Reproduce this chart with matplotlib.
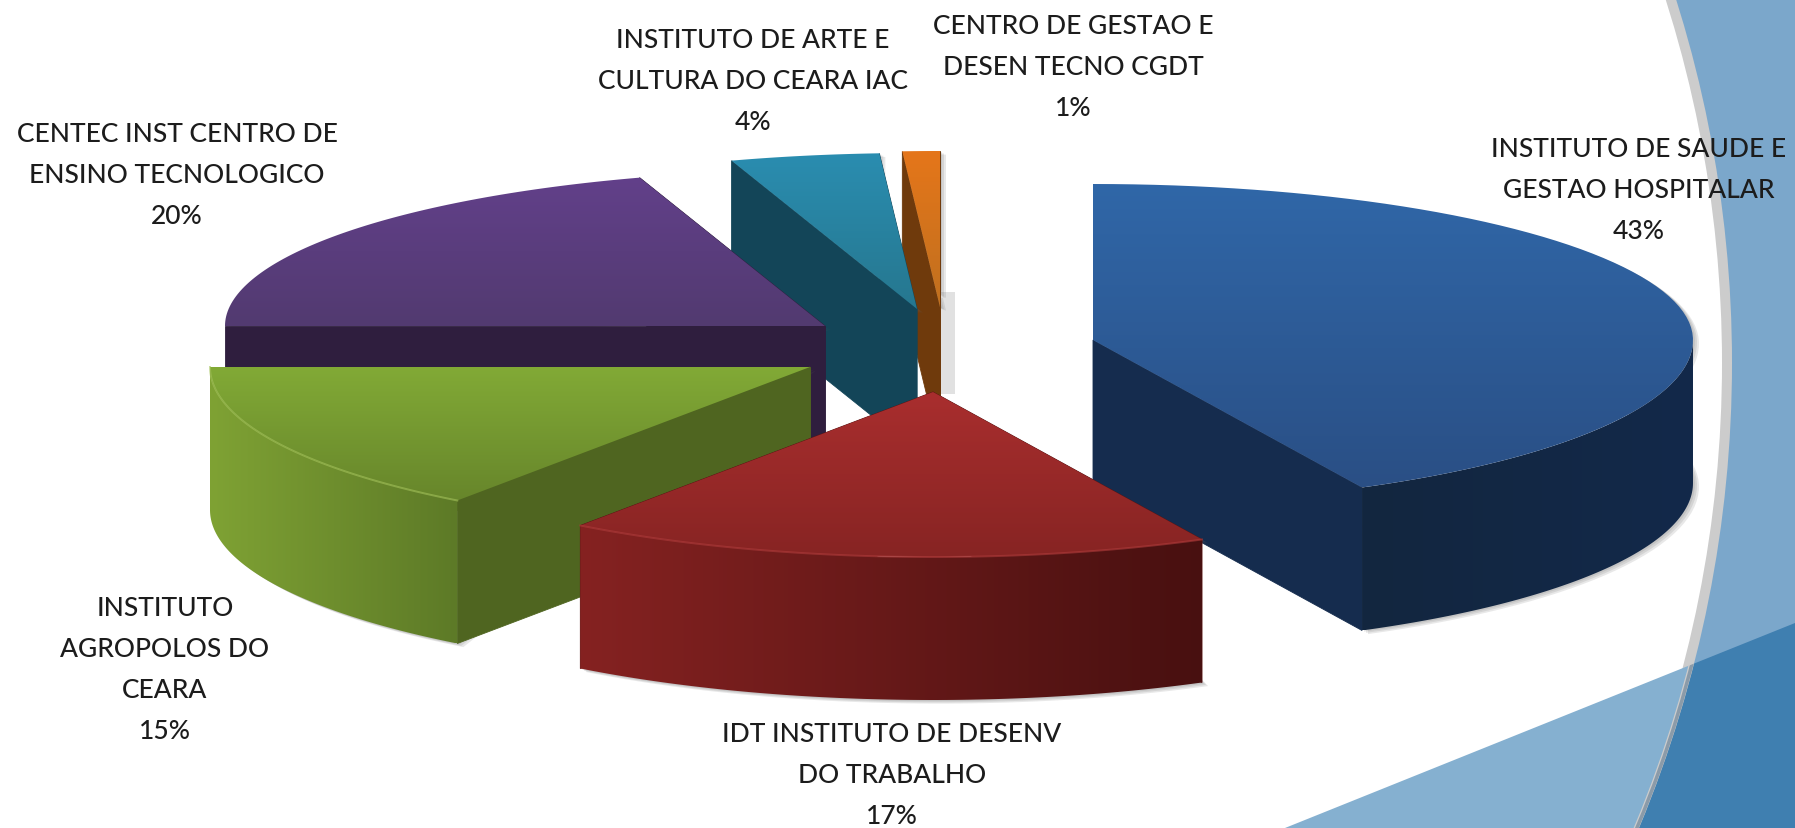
import numpy as np
import matplotlib
matplotlib.use("Agg")
import matplotlib.pyplot as plt
from matplotlib.colors import LinearSegmentedColormap
from matplotlib.patches import Circle, Polygon, Rectangle

# slices, clockwise from 12 o'clock
names = [
    "INSTITUTO DE SAUDE E\nGESTAO HOSPITALAR",
    "IDT INSTITUTO DE DESENV\nDO TRABALHO",
    "INSTITUTO\nAGROPOLOS DO\nCEARA",
    "CENTEC INST CENTRO DE\nENSINO TECNOLOGICO",
    "INSTITUTO DE ARTE E\nCULTURA DO CEARA IAC",
    "CENTRO DE GESTAO E\nDESEN TECNO CGDT",
]
values = [42.6, 17.4, 15, 20, 4, 1]

# layout in image pixels
apexes = [(1093, 341), (933, 393), (810, 368), (825, 327), (917, 310), (940, 308)]
label_pos = [(1639, 190), (892, 776), (165, 670), (177, 175), (753, 81), (1073, 67)]
draw_order = [5, 4, 0, 3, 2, 1]
RX = 600
RY_BACK = 156
RY_FRONT = 165
DEPTH = 143

top_colors = [("#3067a8", "#2a4f85"), ("#a92e2e", "#872423"), ("#82aa36", "#67862b"),
              ("#62408a", "#523a70"), ("#2a8db0", "#26778f"), ("#e5761a", "#c0701f")]
wall_colors = ["#152c4e", "#5a1514", "#4f6520", "#2f1e3e", "#134558", "#6f3a0c"]
side_colors = [("#12263f", "#13294a"), ("#852221", "#481010"), ("#7fa234", "#5d7a27"),
               ("#2f1e3e", "#2f1e3e"), ("#134558", "#134558"), ("#6f3a0c", "#6f3a0c")]
rim_colors = [None, "#b03c3c", "#a5c45c", None, None, None]

fig = plt.figure(figsize=(17.95, 8.29), dpi=100)
ax = fig.add_axes([0, 0, 1, 1])
ax.set_xlim(0, 1795)
ax.set_ylim(829, 0)
ax.set_autoscale_on(False)
ax.axis("off")

zo = [10]


def next_z():
    zo[0] += 1
    return zo[0]


def slice_point(apex, theta, drop=0):
    rad = np.radians(theta)
    ry = RY_BACK if np.cos(rad) > 0 else RY_FRONT
    return apex[0] + RX * np.sin(rad), apex[1] - ry * np.cos(rad) + drop


def arc(apex, t0, t1, drop=0):
    return [slice_point(apex, t, drop) for t in np.linspace(t0, t1, 80)]


def gradient_poly(points, c0, c1, vertical=True):
    z = next_z()
    patch = Polygon(points, closed=True, facecolor="none", edgecolor="none", zorder=z)
    ax.add_patch(patch)
    pts = np.array(points)
    cmap = LinearSegmentedColormap.from_list("g", [c0, c1])
    grad = np.linspace(0, 1, 256)
    grad = grad[:, None] if vertical else grad[None, :]
    im = ax.imshow(grad, cmap=cmap, aspect="auto", zorder=z, interpolation="bilinear",
                   extent=(pts[:, 0].min(), pts[:, 0].max(), pts[:, 1].max(), pts[:, 1].min()))
    im.set_clip_path(patch)


def flat_poly(points, color):
    ax.add_patch(Polygon(points, closed=True, facecolor=color, edgecolor=color, lw=0.6, zorder=next_z()))


# slide background
ax.add_patch(Rectangle((0, 0), 1795, 829, facecolor="#7ba7cb", edgecolor="none", zorder=1))
line_edge = [(1285, 829), (1795, 624), (1795, 829)]
ax.add_patch(Polygon(line_edge, closed=True, facecolor="#3f7fb0", edgecolor="none", zorder=2))
ax.add_patch(Circle((522, 364), 1210, facecolor="#cccccc", edgecolor="none", zorder=3))
ax.add_patch(Circle((522, 364), 1200, facecolor="white", edgecolor="none", zorder=4))
clip_circle = Circle((522, 364), 1205, transform=ax.transData)
swoosh = Polygon([(1285, 829), (1795, 624), (1795, 829)], closed=True, facecolor="#85b0d0",
                 edgecolor="none", zorder=5)
ax.add_patch(swoosh)
swoosh.set_clip_path(clip_circle)
ring = Circle((522, 364), 1208, facecolor="none", edgecolor="#8b9ba9", lw=2.5, zorder=6)
ax.add_patch(ring)
ring.set_clip_path(Polygon(line_edge, closed=True, transform=ax.transData))

edges = np.concatenate([[0], np.cumsum(values)]) * 360.0 / sum(values)

for i in draw_order:
    apex = apexes[i]
    t0, t1 = edges[i], edges[i + 1]

    # soft shadow of the whole block
    outline = [apex] + arc(apex, t0, t1) + arc(apex, t1, t0, DEPTH)
    z = next_z()
    for off in (2, 4, 6):
        ax.add_patch(Polygon([(x + off, y + off * 0.6) for x, y in outline], closed=True,
                             facecolor="#606060", edgecolor="none", alpha=0.14, zorder=z))

    # radial cut walls, back one first
    walls = sorted([t0, t1], key=lambda t: slice_point(apex, t)[1])
    for t in walls:
        p = slice_point(apex, t)
        q = slice_point(apex, t, DEPTH)
        flat_poly([apex, p, q, (apex[0], apex[1] + DEPTH)], wall_colors[i])

    # rounded outer wall, only the part facing the viewer
    a0, a1 = max(t0, 90), min(t1, 270)
    if a1 > a0:
        gradient_poly(arc(apex, a0, a1)[::-1] + arc(apex, a0, a1, DEPTH),
                      side_colors[i][0], side_colors[i][1], vertical=False)

    # top face
    gradient_poly([apex] + arc(apex, t0, t1), top_colors[i][0], top_colors[i][1])

    if rim_colors[i]:
        rim = np.array(arc(apex, t0, t1))
        ax.plot(rim[:, 0], rim[:, 1], color=rim_colors[i], lw=1.4, alpha=0.6, zorder=next_z())

# grey strip beside the small slice
sx, sy = apexes[5]
strip = Rectangle((sx, sy - 15), 15, 102, facecolor="#c4c4c4", edgecolor="none", alpha=0.5, zorder=5)
ax.add_patch(strip)

for name, val, pos in zip(names, values, label_pos):
    ax.text(pos[0], pos[1], "{}\n{}%".format(name, round(val)), ha="center", va="center", color="#1c1c1c",
            fontsize=19, fontweight="medium", family=["Lato", "DejaVu Sans"], linespacing=1.8, zorder=100)

fig.savefig("out.png", dpi=100)
